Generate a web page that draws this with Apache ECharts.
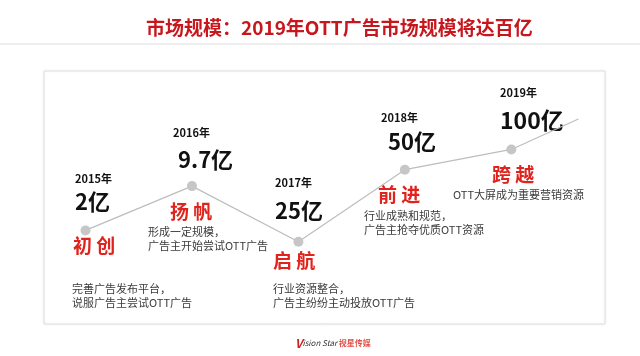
<!DOCTYPE html>
<html><head><meta charset="utf-8">
<script src="https://cdn.jsdelivr.net/npm/echarts@6/dist/echarts.min.js"></script>
<style>html,body{margin:0;padding:0;background:#fff}#c{width:640px;height:356px}</style>
</head><body><div id="c"></div>
<script>
// ---- data ----
const titleText = '市场规模：2019年OTT广告市场规模将达百亿';
const yearNums = [2015, 2016, 2017, 2018, 2019];
const yearLabels = ['2015年', '2016年', '2017年', '2018年', '2019年'];
const marketSize = [2, 9.7, 25, 50, 100]; // 单位：亿
const stages = ['初 创', '扬 帆', '启 航', '前 进', '跨 越'];
const descriptions = [
  ['完善广告发布平台，', '说服广告主尝试OTT广告'],
  ['形成一定规模，', '广告主开始尝试OTT广告'],
  ['行业资源整合，', '广告主纷纷主动投放OTT广告'],
  ['行业成熟和规范，', '广告主抢夺优质OTT资源'],
  ['OTT大屏成为重要营销资源']
];
// decorative curve height of each milestone (arbitrary units)
const curveHeight = [37, 54.5, 32.5, 61, 69];
const tailYear = 2019.63;
const tailHeight = 81;

// ---- layout (pixel placement of the annotation texts) ----
const layout = [
  {yx: 75, yy: 179, vx: 75, vy: 202, sx: 73, sy: 246, dx: 72, dy: 289},
  {yx: 173, yy: 133, vx: 178, vy: 160, sx: 170, sy: 212, dx: 148, dy: 232},
  {yx: 275, yy: 183, vx: 275, vy: 211, sx: 273, sy: 261, dx: 273, dy: 289},
  {yx: 381, yy: 118, vx: 388, vy: 142, sx: 378, sy: 195, dx: 364, dy: 216},
  {yx: 500, yy: 93, vx: 500, vy: 120, sx: 492, sy: 175, dx: 453, dy: 195}
];
const FONT = '"Noto Sans CJK SC","Noto Sans",sans-serif';

const lineData = yearNums.map((y, i) => [y, curveHeight[i]]);
lineData.push({value: [tailYear, tailHeight], symbol: 'none'});

const graphics = [
  {type: 'line', shape: {x1: 0, y1: 44, x2: 640, y2: 44}, style: {stroke: '#dcdcdc', lineWidth: 1}}
];
yearLabels.forEach((lab, i) => {
  const L = layout[i];
  graphics.push({type: 'text', x: L.yx, y: L.yy, style: {text: lab, font: 'bold 11px ' + FONT, fill: '#111', verticalAlign: 'middle', textVerticalAlign: 'middle'}});
  graphics.push({type: 'text', x: L.vx, y: L.vy, style: {text: marketSize[i] + '亿', font: 'bold ' + (i === 4 ? 23 : 22) + 'px ' + FONT, fill: '#111', verticalAlign: 'middle', textVerticalAlign: 'middle'}});
  graphics.push({type: 'text', x: L.sx, y: L.sy, style: {text: stages[i], font: 'bold 19px ' + FONT, fill: '#e0231c', verticalAlign: 'middle', textVerticalAlign: 'middle'}});
  descriptions[i].forEach((d, k) => {
    graphics.push({type: 'text', x: L.dx, y: L.dy + k * 13.5, style: {text: d, font: '11px ' + FONT, fill: '#3a3a3a', verticalAlign: 'middle', textVerticalAlign: 'middle'}});
  });
});
// logo
graphics.push({type: 'text', x: 295, y: 343, style: {
  text: '{v|V}{s|ision Star }{c|视星传媒}',
  verticalAlign: 'middle', textVerticalAlign: 'middle',
  rich: {
    v: {font: 'italic bold 12px ' + FONT, fill: '#d0201a'},
    s: {font: 'italic 8px ' + FONT, fill: '#333'},
    c: {font: 'bold 8px ' + FONT, fill: '#e0504a'}
  }
}});

const chart = echarts.init(document.getElementById('c'), null, {renderer: 'canvas'});
chart.setOption({
  backgroundColor: '#fff',
  animation: false,
  title: {
    text: titleText, left: 141, top: 13,
    textStyle: {color: '#c8161d', fontSize: 19, fontWeight: 'bold', fontFamily: FONT}
  },
  grid: {
    left: 44, top: 71, right: 35, bottom: 32, show: true,
    borderColor: '#dedede', borderWidth: 1, backgroundColor: '#fff',
    shadowBlur: 3, shadowColor: 'rgba(0,0,0,0.06)'
  },
  xAxis: {type: 'value', min: 2014.61, max: 2019.88, show: false},
  yAxis: {type: 'value', min: 0, max: 100, show: false},
  series: [{
    type: 'line', data: lineData,
    symbol: 'circle', symbolSize: 10,
    itemStyle: {color: '#c6c6c6'},
    lineStyle: {color: '#bdbdbd', width: 1.2},
    z: 1
  }],
  graphic: graphics
});
</script>
</body></html>
